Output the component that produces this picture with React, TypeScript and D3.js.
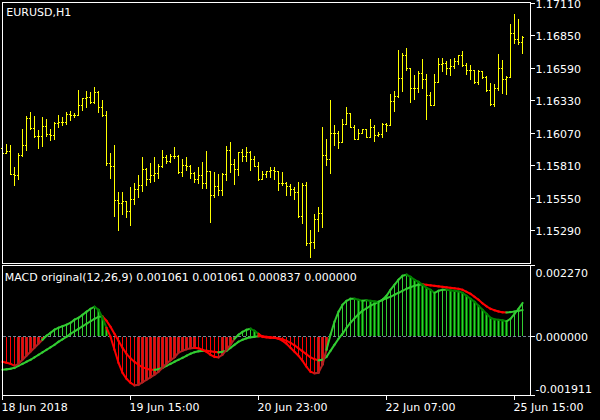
import React from 'react';
import * as d3 from 'd3';

const symbolTitle = 'EURUSD,H1';
const macdTitle = 'MACD original(12,26,9) 0.001061 0.001061 0.000837 0.000000';
const priceTicks = [1.1711, 1.1685, 1.1659, 1.1633, 1.1607, 1.1581, 1.1555, 1.1529];
const macdMax = 0.00227;
const macdMin = -0.001911;
const timeLabels = ['18 Jun 2018', '19 Jun 15:00', '20 Jun 23:00', '22 Jun 07:00', '25 Jun 15:00'];
const timeLabelBars = [0, 32, 64, 96, 128];

const opens = [
  1.15951, 1.15911, 1.15927, 1.15741, 1.15727, 1.15895, 1.15975, 1.16190, 1.16104, 1.16042,
  1.16040, 1.16120, 1.16056, 1.16048, 1.16144, 1.16152, 1.16154, 1.16224, 1.16216, 1.16210,
  1.16296, 1.16347, 1.16358, 1.16318, 1.16400, 1.16274, 1.16216, 1.15829, 1.15801, 1.15534,
  1.15508, 1.15521, 1.15446, 1.15540, 1.15615, 1.15647, 1.15781, 1.15700, 1.15727, 1.15743,
  1.15801, 1.15874, 1.15841, 1.15887, 1.15882, 1.15756, 1.15815, 1.15807, 1.15743, 1.15700,
  1.15727, 1.15668, 1.15767, 1.15572, 1.15641, 1.15612, 1.15741, 1.15930, 1.15821, 1.15783,
  1.15917, 1.15887, 1.15917, 1.15863, 1.15807, 1.15700, 1.15735, 1.15767, 1.15775, 1.15767,
  1.15668, 1.15668, 1.15641, 1.15620, 1.15596, 1.15401, 1.15647, 1.15187, 1.15195, 1.15380,
  1.15428, 1.15895, 1.15861, 1.16069, 1.16069, 1.15997, 1.16141, 1.16230, 1.16117, 1.16021,
  1.16069, 1.16096, 1.16034, 1.16117, 1.16048, 1.16056, 1.16136, 1.16128, 1.16328, 1.16363,
  1.16510, 1.16697, 1.16585, 1.16430, 1.16430, 1.16550, 1.16497, 1.16376, 1.16296, 1.16475,
  1.16617, 1.16630, 1.16585, 1.16603, 1.16643, 1.16697, 1.16609, 1.16571, 1.16569, 1.16475,
  1.16563, 1.16518, 1.16411, 1.16302, 1.16430, 1.16590, 1.16502, 1.16518, 1.16871, 1.16825,
  1.16796,
];
const highs = [
  1.15983, 1.15983, 1.15975, 1.15797, 1.15909, 1.16101, 1.16202, 1.16238, 1.16202, 1.16088,
  1.16200, 1.16176, 1.16096, 1.16152, 1.16216, 1.16200, 1.16238, 1.16242, 1.16232, 1.16411,
  1.16350, 1.16408, 1.16395, 1.16440, 1.16403, 1.16336, 1.16242, 1.15909, 1.15975, 1.15596,
  1.15596, 1.15526, 1.15631, 1.15668, 1.15727, 1.15877, 1.15791, 1.15829, 1.15877, 1.15821,
  1.15935, 1.15895, 1.15901, 1.15957, 1.15895, 1.15863, 1.15877, 1.15815, 1.15753, 1.15793,
  1.15837, 1.15927, 1.15767, 1.15756, 1.15735, 1.15748, 1.15967, 1.15997, 1.15863, 1.15917,
  1.15941, 1.15957, 1.15927, 1.15887, 1.15837, 1.15767, 1.15767, 1.15797, 1.15797, 1.15767,
  1.15759, 1.15676, 1.15655, 1.15636, 1.15676, 1.15668, 1.15676, 1.15286, 1.15422, 1.15476,
  1.16112, 1.16016, 1.16336, 1.16128, 1.16080, 1.16176, 1.16280, 1.16230, 1.16133, 1.16096,
  1.16096, 1.16096, 1.16176, 1.16128, 1.16072, 1.16149, 1.16149, 1.16384, 1.16408, 1.16737,
  1.16711, 1.16751, 1.16590, 1.16529, 1.16563, 1.16663, 1.16537, 1.16398, 1.16537, 1.16671,
  1.16671, 1.16643, 1.16663, 1.16671, 1.16697, 1.16729, 1.16630, 1.16611, 1.16571, 1.16571,
  1.16563, 1.16523, 1.16470, 1.16457, 1.16705, 1.16651, 1.16523, 1.16943, 1.17018, 1.16983,
  1.16844,
];
const lows = [
  1.15887, 1.15911, 1.15741, 1.15649, 1.15695, 1.15882, 1.15935, 1.16101, 1.16037, 1.15949,
  1.15962, 1.16042, 1.16010, 1.16016, 1.16114, 1.16128, 1.16141, 1.16170, 1.16197, 1.16210,
  1.16250, 1.16274, 1.16310, 1.16310, 1.16234, 1.16202, 1.15809, 1.15703, 1.15406, 1.15294,
  1.15422, 1.15393, 1.15328, 1.15500, 1.15553, 1.15601, 1.15649, 1.15676, 1.15681, 1.15703,
  1.15797, 1.15831, 1.15837, 1.15869, 1.15748, 1.15721, 1.15769, 1.15703, 1.15673, 1.15663,
  1.15628, 1.15628, 1.15352, 1.15553, 1.15569, 1.15572, 1.15687, 1.15753, 1.15655, 1.15729,
  1.15847, 1.15847, 1.15769, 1.15801, 1.15689, 1.15699, 1.15713, 1.15716, 1.15700, 1.15609,
  1.15647, 1.15569, 1.15569, 1.15540, 1.15393, 1.15348, 1.15168, 1.15072, 1.15142, 1.15280,
  1.15312, 1.15815, 1.15748, 1.15970, 1.15949, 1.15997, 1.16141, 1.16117, 1.16021, 1.16021,
  1.16069, 1.16034, 1.16034, 1.16002, 1.16042, 1.16037, 1.16082, 1.16128, 1.16242, 1.16360,
  1.16403, 1.16571, 1.16315, 1.16342, 1.16398, 1.16430, 1.16176, 1.16291, 1.16296, 1.16475,
  1.16563, 1.16537, 1.16531, 1.16590, 1.16617, 1.16603, 1.16537, 1.16497, 1.16470, 1.16462,
  1.16510, 1.16403, 1.16291, 1.16283, 1.16416, 1.16390, 1.16382, 1.16518, 1.16791, 1.16783,
  1.16711,
];
const closes = [
  1.15911, 1.15927, 1.15741, 1.15727, 1.15895, 1.15975, 1.16190, 1.16104, 1.16042, 1.16040,
  1.16120, 1.16056, 1.16048, 1.16144, 1.16152, 1.16154, 1.16224, 1.16216, 1.16210, 1.16296,
  1.16347, 1.16358, 1.16318, 1.16400, 1.16274, 1.16216, 1.15829, 1.15801, 1.15534, 1.15508,
  1.15521, 1.15446, 1.15540, 1.15615, 1.15647, 1.15781, 1.15700, 1.15727, 1.15743, 1.15801,
  1.15874, 1.15841, 1.15887, 1.15882, 1.15756, 1.15815, 1.15807, 1.15743, 1.15700, 1.15727,
  1.15668, 1.15767, 1.15572, 1.15641, 1.15612, 1.15741, 1.15930, 1.15821, 1.15783, 1.15917,
  1.15887, 1.15917, 1.15863, 1.15807, 1.15700, 1.15735, 1.15767, 1.15775, 1.15767, 1.15668,
  1.15668, 1.15641, 1.15620, 1.15596, 1.15401, 1.15647, 1.15187, 1.15195, 1.15380, 1.15428,
  1.15895, 1.15861, 1.16069, 1.16069, 1.15997, 1.16141, 1.16230, 1.16117, 1.16021, 1.16069,
  1.16096, 1.16034, 1.16117, 1.16048, 1.16056, 1.16136, 1.16128, 1.16328, 1.16363, 1.16510,
  1.16697, 1.16585, 1.16430, 1.16430, 1.16550, 1.16497, 1.16376, 1.16296, 1.16475, 1.16617,
  1.16630, 1.16585, 1.16603, 1.16643, 1.16697, 1.16609, 1.16571, 1.16569, 1.16475, 1.16563,
  1.16518, 1.16411, 1.16302, 1.16430, 1.16590, 1.16502, 1.16518, 1.16871, 1.16825, 1.16796,
  1.16836,
];

const macdValues = [
  -0.000826, -0.000859, -0.000891, -0.000955, -0.000891, -0.000762, -0.000633, -0.000505, -0.000376, -0.000248,
  -0.000119, 0.000010, 0.000106, 0.000203, 0.000267, 0.000315, 0.000364, 0.000428, 0.000525, 0.000588,
  0.000685, 0.000782, 0.000878, 0.000942, 0.000846, 0.000588, 0.000267, -0.000022, -0.000440, -0.000859,
  -0.001180, -0.001373, -0.001502, -0.001582, -0.001566, -0.001486, -0.001405, -0.001325, -0.001244, -0.001148,
  -0.001020, -0.000891, -0.000778, -0.000682, -0.000537, -0.000473, -0.000425, -0.000393, -0.000376, -0.000393,
  -0.000440, -0.000505, -0.000601, -0.000666, -0.000682, -0.000601, -0.000440, -0.000279, -0.000087, 0.000042,
  0.000138, 0.000203, 0.000234, 0.000171, 0.000074, -0.000022, -0.000039, -0.000055, -0.000057, -0.000087,
  -0.000151, -0.000248, -0.000376, -0.000505, -0.000633, -0.000794, -0.000987, -0.001148, -0.001197, -0.001180,
  -0.000923, -0.000440, 0.000042, 0.000460, 0.000782, 0.001007, 0.001135, 0.001199, 0.001201, 0.001168,
  0.001135, 0.001152, 0.001135, 0.001119, 0.001103, 0.001168, 0.001296, 0.001489, 0.001650, 0.001811,
  0.001939, 0.001972, 0.001907, 0.001811, 0.001746, 0.001650, 0.001553, 0.001489, 0.001392, 0.001457,
  0.001489, 0.001490, 0.001473, 0.001457, 0.001441, 0.001392, 0.001296, 0.001199, 0.001103, 0.000975,
  0.000846, 0.000717, 0.000588, 0.000540, 0.000525, 0.000508, 0.000476, 0.000556, 0.000717, 0.000878,
  0.001061,
];
const signalValues = [
  -0.001083, -0.001068, -0.001052, -0.001020, -0.000955, -0.000891, -0.000826, -0.000762, -0.000682, -0.000601,
  -0.000521, -0.000440, -0.000360, -0.000279, -0.000183, -0.000103, -0.000022, 0.000074, 0.000155, 0.000234,
  0.000315, 0.000395, 0.000476, 0.000556, 0.000620, 0.000629, 0.000492, 0.000299, 0.000074, -0.000151,
  -0.000376, -0.000570, -0.000714, -0.000826, -0.000923, -0.001003, -0.001052, -0.001083, -0.001085, -0.001068,
  -0.001020, -0.000955, -0.000891, -0.000826, -0.000762, -0.000698, -0.000633, -0.000570, -0.000521, -0.000489,
  -0.000473, -0.000471, -0.000489, -0.000505, -0.000521, -0.000505, -0.000473, -0.000376, -0.000279, -0.000183,
  -0.000119, -0.000071, -0.000039, -0.000022, -0.000006, -0.000007, -0.000022, -0.000039, -0.000055, -0.000071,
  -0.000103, -0.000151, -0.000216, -0.000296, -0.000393, -0.000489, -0.000586, -0.000682, -0.000746, -0.000778,
  -0.000762, -0.000666, -0.000473, -0.000279, -0.000087, 0.000074, 0.000267, 0.000428, 0.000572, 0.000701,
  0.000814, 0.000894, 0.000975, 0.001038, 0.001103, 0.001168, 0.001215, 0.001264, 0.001329, 0.001392,
  0.001457, 0.001521, 0.001569, 0.001618, 0.001650, 0.001665, 0.001650, 0.001634, 0.001618, 0.001602,
  0.001586, 0.001569, 0.001553, 0.001537, 0.001521, 0.001489, 0.001425, 0.001360, 0.001264, 0.001168,
  0.001055, 0.000958, 0.000878, 0.000830, 0.000790, 0.000765, 0.000760, 0.000770, 0.000790, 0.000815,
  0.000837,
];

const FONT = '"DejaVu Sans", Verdana, sans-serif';
const LIME = '#32CD32';
const DKGREEN = '#008000';
const RED = '#FF0000';
const BROWN = '#B22222';
const BARCOLOR = '#FFFF00';

export default function App() {
  const n = closes.length;
  const x = d3.scaleLinear().domain([0, n - 1]).range([2, 2 + 4 * (n - 1)]);
  const yP = d3.scaleLinear().domain([1.1529, 1.1711]).range([230.5, 3.5]);
  const yM = d3.scaleLinear().domain([macdMin, macdMax]).range([395.5, 265.5]);
  const fl = (v: number) => Math.floor(v);

  const zeroRow = fl(yM(0));

  const stateColor = (i: number) => {
    const v = macdValues[i];
    const prev = i > 0 ? macdValues[i - 1] : v + 1e-9;
    if (v >= 0) return v >= prev ? LIME : DKGREEN;
    return v < prev ? RED : BROWN;
  };

  const bars = closes.map((c, i) => {
    const xi = Math.round(x(i));
    const yh = fl(yP(highs[i]));
    const yl = fl(yP(lows[i]));
    const yo = fl(yP(opens[i]));
    const yc = fl(yP(c));
    return (
      <g key={'b' + i}>
        <rect x={xi} y={yh} width={1} height={yl - yh + 1} fill={BARCOLOR} />
        <rect x={xi - 1} y={yo} width={1} height={1} fill={BARCOLOR} />
        <rect x={xi + 1} y={yc} width={1} height={1} fill={BARCOLOR} />
      </g>
    );
  });

  const hist = macdValues.map((v, i) => {
    const xi = Math.round(x(i));
    const y1 = fl(yM(v));
    const top = v >= 0 ? y1 : zeroRow + 1;
    const bot = v >= 0 ? zeroRow - 1 : y1;
    if (bot < top) return null;
    const sc = stateColor(i);
    const base = v >= 0 ? LIME : RED;
    const extra = sc === DKGREEN || sc === BROWN;
    return (
      <g key={'h' + i}>
        {extra && <rect x={xi - 1} y={top} width={3} height={bot - top + 1} fill={sc} />}
        <rect x={xi} y={top} width={1} height={bot - top + 1} fill={base} />
      </g>
    );
  });

  const macdSegs = macdValues.slice(1).map((v, k) => {
    const i = k + 1;
    return (
      <line key={'m' + i} x1={x(i - 1) + 0.5} y1={yM(macdValues[i - 1])} x2={x(i) + 0.5} y2={yM(v)}
        stroke={stateColor(i)} strokeWidth={2} strokeLinecap="square" />
    );
  });
  const sigSegs = signalValues.slice(1).map((v, k) => {
    const i = k + 1;
    const col = v >= signalValues[i - 1] ? LIME : RED;
    return (
      <line key={'s' + i} x1={x(i - 1) + 0.5} y1={yM(signalValues[i - 1])} x2={x(i) + 0.5} y2={yM(v)}
        stroke={col} strokeWidth={2} strokeLinecap="square" />
    );
  });

  return (
    <div style={{ position: 'absolute', left: 0, top: 0, width: 600, height: 420 }}>
      <svg width={600} height={420} style={{ display: 'block' }} fontFamily={FONT}>
        <rect x={0} y={0} width={600} height={420} fill="#000000" />
        <g shapeRendering="crispEdges">{bars}</g>
        <g shapeRendering="crispEdges">{hist}</g>
        <line x1={3} x2={530} y1={zeroRow + 0.5} y2={zeroRow + 0.5} stroke="#778899" strokeWidth={1}
          strokeDasharray="3,2" shapeRendering="crispEdges" />
        <g>{sigSegs}</g>
        <g>{macdSegs}</g>
        <g shapeRendering="crispEdges" fill="none" stroke="#FFFFFF" strokeWidth={1}>
          <rect x={2.5} y={2.5} width={528} height={261} />
          <rect x={2.5} y={265.5} width={528} height={130} />
        </g>
        <g shapeRendering="crispEdges" stroke="#FFFFFF" strokeWidth={1}>
          {priceTicks.map((t) => (
            <line key={'pt' + t} x1={531} x2={535} y1={fl(yP(t)) + 0.5} y2={fl(yP(t)) + 0.5} />
          ))}
          {[macdMax, 0, macdMin].map((t) => (
            <line key={'mt' + t} x1={531} x2={535} y1={fl(yM(t)) + 0.5} y2={fl(yM(t)) + 0.5} />
          ))}
          {timeLabelBars.map((b) => (
            <line key={'tt' + b} x1={x(b) + 0.5} x2={x(b) + 0.5} y1={396} y2={400} />
          ))}
        </g>
        <g fill="#FFFFFF" fontSize={11}>
          <text x={6.3} y={16}>{symbolTitle}</text>
          <text x={4.7} y={280.5}>{macdTitle}</text>
          {priceTicks.map((t) => (
            <text key={'pl' + t} x={535.5} y={fl(yP(t)) + 5}>{t.toFixed(5)}</text>
          ))}
          <text x={535.5} y={fl(yM(macdMax)) + 12}>{macdMax.toFixed(6)}</text>
          <text x={535.5} y={zeroRow + 4.5}>{(0).toFixed(6)}</text>
          <text x={535.5} y={fl(yM(macdMin)) - 2}>{macdMin.toFixed(6)}</text>
          {timeLabels.map((l, k) => (
            <text key={'tl' + k} x={x(timeLabelBars[k]) - 0.5} y={411}>{l}</text>
          ))}
        </g>
      </svg>
    </div>
  );
}
